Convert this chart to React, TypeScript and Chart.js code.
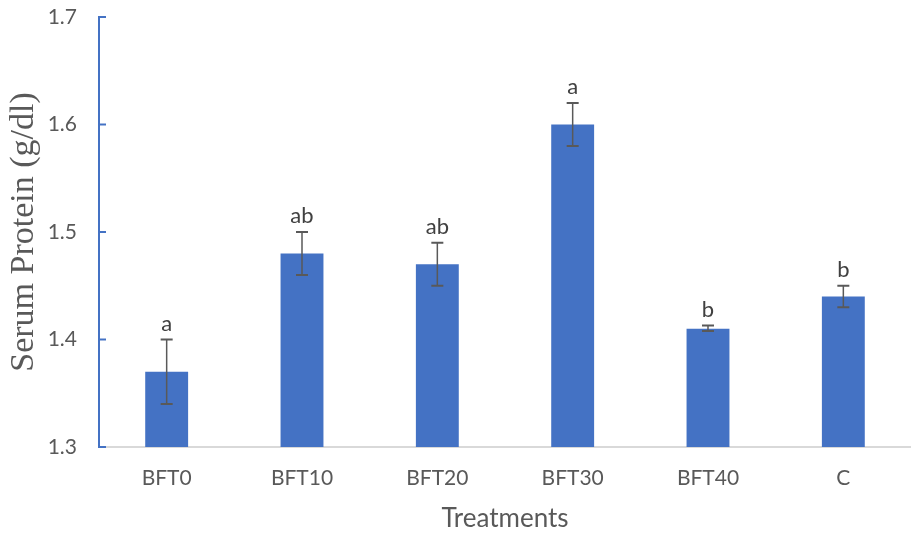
import React, { useEffect, useRef } from "react";
import { Chart, registerables } from "chart.js";

Chart.register(...registerables);

const categories = ["BFT0", "BFT10", "BFT20", "BFT30", "BFT40", "C"];
const serumProtein = [1.37, 1.48, 1.47, 1.6, 1.41, 1.44];
const errLow = [1.34, 1.46, 1.45, 1.58, 1.408, 1.43];
const errHigh = [1.4, 1.5, 1.49, 1.62, 1.413, 1.45];
const letters = ["a", "ab", "ab", "a", "b", "b"];
const yTicks = [1.3, 1.4, 1.5, 1.6, 1.7];

const FONT = "Lato, 'Open Sans', sans-serif";

const errorBarPlugin = {
  id: "errorBars",
  afterDatasetsDraw(chart: any) {
    const { ctx, scales } = chart;
    const x = scales.x;
    const y = scales.y;
    const meta = chart.getDatasetMeta(0);
    ctx.save();
    meta.data.forEach((bar: any, i: number) => {
      const cx = bar.x;
      const yl = y.getPixelForValue(errLow[i]);
      const yh = y.getPixelForValue(errHigh[i]);
      ctx.strokeStyle = "#595959";
      ctx.lineWidth = 1.5;
      ctx.beginPath();
      ctx.moveTo(cx, yl);
      ctx.lineTo(cx, yh);
      ctx.stroke();
      ctx.lineWidth = 2;
      ctx.beginPath();
      ctx.moveTo(cx - 6, yl);
      ctx.lineTo(cx + 6, yl);
      ctx.moveTo(cx - 6, yh);
      ctx.lineTo(cx + 6, yh);
      ctx.stroke();
      ctx.fillStyle = "#404040";
      ctx.font = `22px ${FONT}`;
      ctx.textAlign = "center";
      ctx.textBaseline = "alphabetic";
      ctx.fillText(letters[i], cx, yh - 9);
    });
    ctx.strokeStyle = "#4472C4";
    ctx.lineWidth = 2;
    const ax = x.left;
    yTicks.forEach((v) => {
      const py = y.getPixelForValue(v);
      ctx.beginPath();
      ctx.moveTo(ax, py);
      ctx.lineTo(ax + 7, py);
      ctx.stroke();
    });
    ctx.restore();
  },
};

export default function App() {
  const ref = useRef<HTMLCanvasElement | null>(null);
  useEffect(() => {
    if (!ref.current) return;
    const chart = new Chart(ref.current, {
      type: "bar",
      data: {
        labels: categories,
        datasets: [
          {
            label: "Serum Protein",
            data: serumProtein,
            backgroundColor: "#4472C4",
            borderWidth: 0,
            barPercentage: 0.317,
            categoryPercentage: 1,
          },
        ],
      },
      options: {
        animation: false,
        responsive: true,
        maintainAspectRatio: false,
        layout: { padding: { top: 17, right: 0, left: 0, bottom: 0 } },
        plugins: {
          legend: { display: false },
          tooltip: { enabled: false },
        },
        scales: {
          x: {
            grid: { display: false, drawTicks: false },
            border: { display: true, color: "#D9D9D9", width: 2 },
            ticks: {
              color: "#595959",
              font: { family: FONT, size: 21 },
              padding: 19,
            },
            title: {
              display: true,
              text: "Treatments",
              color: "#595959",
              font: { family: FONT, size: 26 },
              padding: { top: 0, bottom: 2 },
            },
            afterFit(scale: any) {
              scale.height = 89;
              scale.paddingLeft = 0;
              scale.paddingRight = 0;
            },
          },
          y: {
            min: 1.3,
            max: 1.7,
            grid: { display: false, drawTicks: false },
            border: { display: true, color: "#4472C4", width: 2 },
            ticks: {
              stepSize: 0.1,
              color: "#595959",
              font: { family: FONT, size: 21 },
              padding: 22,
              callback: (v: any) => Number(v).toFixed(1),
            },
            title: {
              display: true,
              text: "Serum Protein (g/dl)",
              color: "#595959",
              font: { family: "'Liberation Serif', 'DejaVu Serif', serif", size: 34 },
              padding: { top: 4, bottom: 0 },
            },
            afterFit(scale: any) {
              scale.width = 99;
              scale.paddingTop = 0;
              scale.paddingBottom = 0;
            },
          },
        },
      },
      plugins: [errorBarPlugin],
    });
    return () => chart.destroy();
  }, []);
  return (
    <div style={{ position: "absolute", left: 0, top: 0, width: 911, height: 536, background: "#fff" }}>
      <canvas ref={ref} />
    </div>
  );
}
